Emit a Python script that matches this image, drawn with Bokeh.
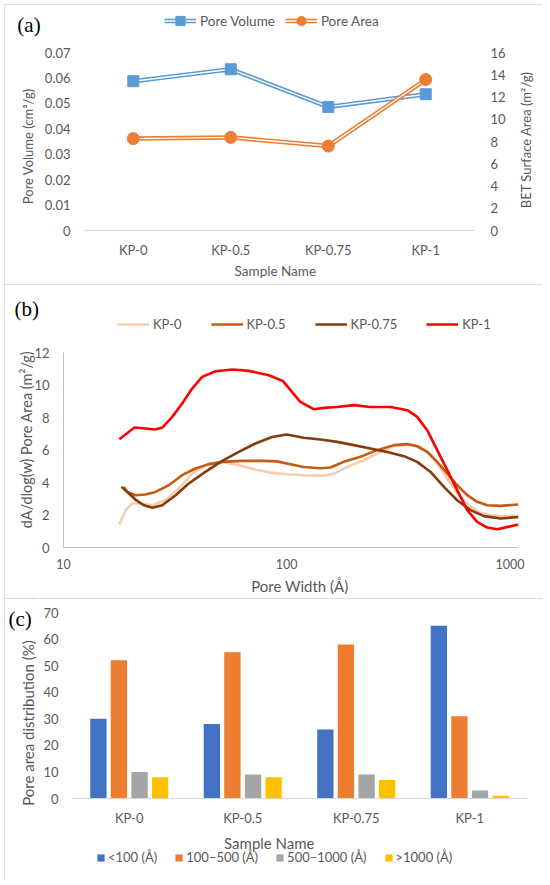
import math
from bokeh.plotting import figure
from bokeh.models import (FactorRange, Range1d, LinearAxis, FixedTicker, Label,
                          Legend, LegendItem, ColumnDataSource)
from bokeh.layouts import column
from bokeh.transform import dodge
from bokeh.embed import file_html
from bokeh.resources import INLINE

FONT = "Lato"
TXT = "#595959"

# ---------------- data ----------------
samples = ["KP-0", "KP-0.5", "KP-0.75", "KP-1"]
pore_volume = [0.0587, 0.0634, 0.0486, 0.0536]
pore_area = [8.26, 8.37, 7.59, 13.57]

vol_ticks = [0, 0.01, 0.02, 0.03, 0.04, 0.05, 0.06, 0.07]
vol_tick_labels = ["0", "0.01", "0.02", "0.03", "0.04", "0.05", "0.06", "0.07"]
area_ticks = [0, 2, 4, 6, 8, 10, 12, 14, 16]

w_kp0 = [17.8, 19.0, 20.3, 22.5, 25.0, 28.6, 32.9, 37.7, 43.2, 51.4, 61, 72.4, 86, 100,
         119, 147, 163, 187, 221, 254, 302, 359, 398, 441, 489, 542, 601, 666, 738, 818,
         907, 1092]
a_kp0 = [1.41, 2.3, 2.71, 2.71, 2.6, 2.91, 3.63, 4.55, 5.06, 5.27, 5.06, 4.8, 4.59, 4.51,
         4.45, 4.41, 4.55, 4.96, 5.37, 5.78, 6.23, 6.36, 6.19, 5.68, 4.86, 3.94, 3.11, 2.5,
         2.13, 1.99, 1.93, 1.95]

w_kp05 = [18.6, 19.3, 21, 23.3, 25.8, 29.6, 34, 39, 44.8, 51.4, 63.2, 77.6, 90, 104, 119,
          142, 157, 180, 214, 254, 302, 347, 384, 426, 472, 524, 580, 644, 713, 791, 907,
          1092]
a_kp05 = [3.73, 3.42, 3.22, 3.26, 3.42, 3.83, 4.45, 4.86, 5.13, 5.27, 5.33, 5.33, 5.3, 5.12,
          4.95, 4.88, 4.92, 5.27, 5.58, 5.99, 6.3, 6.36, 6.23, 5.89, 5.27, 4.55, 3.83, 3.22,
          2.81, 2.6, 2.56, 2.65]

w_kp075 = [18.2, 19.3, 21, 22.9, 25, 27.7, 31.8, 36.4, 43.2, 51.4, 61, 72.4, 86, 100, 119,
           142, 168, 200, 237, 282, 335, 384, 441, 506, 580, 666, 764, 907, 1092]
a_kp075 = [3.73, 3.42, 2.95, 2.6, 2.44, 2.6, 3.22, 3.94, 4.65, 5.33, 5.88, 6.4, 6.8, 6.95,
           6.75, 6.65, 6.5, 6.3, 6.09, 5.88, 5.62, 5.27, 4.65, 3.73, 2.91, 2.3, 1.93, 1.78,
           1.88]

w_kp1 = [17.8, 20.8, 23.3, 25.8, 27.7, 30.7, 34, 37.7, 41.8, 48, 57, 67.6, 83.2, 96, 104,
         115, 132, 147, 168, 200, 237, 292, 347, 384, 426, 472, 524, 580, 644, 713, 791,
         877, 977, 1092]
a_kp1 = [6.66, 7.38, 7.32, 7.26, 7.38, 8.04, 8.86, 9.78, 10.5, 10.85, 10.95, 10.87, 10.6,
         10.25, 9.68, 8.96, 8.51, 8.59, 8.65, 8.76, 8.65, 8.65, 8.45, 8.04, 7.22, 5.99, 4.76,
         3.53, 2.3, 1.58, 1.23, 1.12, 1.27, 1.42]

psd_ticks = [0, 2, 4, 6, 8, 10, 12]
width_ticks = [10, 100, 1000]

lt100 = [30, 28, 26, 65]
b100_500 = [52, 55, 58, 31]
b500_1000 = [10, 9, 9, 3]
gt1000 = [8, 8, 7, 1]
dist_ticks = [0, 10, 20, 30, 40, 50, 60, 70]
bin_labels = ["<100 (Å)", "100–500 (Å)", "500–1000 (Å)", ">1000 (Å)"]

BORDER = {"outline": "1px solid #D9D9D9", "outline-offset": "-1px"}
W = 538
HA, HB, HC = 280, 314, 283


def style_axis(ax, size="13px"):
    ax.major_label_text_font = FONT
    ax.major_label_text_font_size = size
    ax.major_label_text_color = TXT
    ax.major_tick_line_color = None
    ax.minor_tick_line_color = None
    ax.major_tick_out = 0
    ax.major_tick_in = 0
    ax.minor_tick_out = 0
    ax.minor_tick_in = 0


def overlay(h):
    """Transparent full-frame figure laid over a panel; pixel coordinates, y down."""
    o = figure(width=W, height=h, x_range=Range1d(0, W), y_range=Range1d(h, 0),
               output_backend="svg", toolbar_location=None, min_border=0,
               x_axis_location=None, y_axis_location=None, margin=(-h, 0, 0, 0),
               frame_align=False)
    # legend keys are drawn from the series themselves, mapped far outside the frame
    o.extra_y_ranges = {"off": Range1d(-5000, -4000)}
    o.xgrid.visible = False
    o.ygrid.visible = False
    o.outline_line_color = None
    o.background_fill_alpha = 0
    o.border_fill_alpha = 0
    return o


def text(o, x, y, s, size, angle=0.0, font=FONT, color=TXT):
    o.add_layout(Label(x=x, y=y, text=s, angle=angle, text_font=font,
                       text_font_size=size, text_color=color, text_align="center",
                       text_baseline="middle"))


def legend(o, items, loc, **kw):
    base = dict(orientation="horizontal", location=loc, padding=0, margin=0,
                border_line_color=None, background_fill_alpha=0, label_text_font=FONT,
                label_text_color=TXT)
    base.update(kw)
    o.add_layout(Legend(items=items, **base))


# ---------------- panel (a) ----------------
pa = figure(width=W, height=HA, x_range=FactorRange(factors=samples),
            y_range=Range1d(0, 0.07), output_backend="svg", toolbar_location=None,
            min_border_left=80, min_border_right=68, min_border_top=48,
            min_border_bottom=54, styles=BORDER, frame_align=False)
pa.extra_y_ranges = {"area": Range1d(0, 16)}
pa.xgrid.visible = False
pa.ygrid.visible = False
pa.outline_line_color = None

style_axis(pa.yaxis[0])
pa.yaxis[0].ticker = FixedTicker(ticks=vol_ticks)
pa.yaxis[0].major_label_overrides = {t: s for t, s in zip(vol_ticks, vol_tick_labels)}
pa.yaxis[0].axis_line_color = None
pa.yaxis[0].major_label_standoff = 14

style_axis(pa.xaxis[0])
pa.xaxis[0].axis_line_color = "#D9D9D9"
pa.xaxis[0].major_label_standoff = 11

ra = LinearAxis(y_range_name="area", ticker=FixedTicker(ticks=area_ticks))
style_axis(ra)
ra.axis_line_color = None
ra.major_label_standoff = 16
pa.add_layout(ra, "right")

src_a = ColumnDataSource(dict(x=samples, vol=pore_volume, area=pore_area))
BLUE_A = "#5B9BD5"
ORANGE_A = "#ED7D31"
pa.line("x", "vol", source=src_a, line_color=BLUE_A, line_width=4.5)
pa.line("x", "vol", source=src_a, line_color="white", line_width=1.4)
pa.scatter("x", "vol", source=src_a, marker="square", size=11,
           fill_color=BLUE_A, line_color=BLUE_A)
pa.line("x", "area", source=src_a, y_range_name="area", line_color=ORANGE_A,
        line_width=4.5)
pa.line("x", "area", source=src_a, y_range_name="area", line_color="white",
        line_width=1.4)
pa.scatter("x", "area", source=src_a, y_range_name="area", marker="circle", size=12,
           fill_color=ORANGE_A, line_color=ORANGE_A)

oa = overlay(HA)
kw_off = dict(y_range_name="off")
k1 = oa.line(pore_area, pore_area, line_color=BLUE_A, line_width=4.5, **kw_off)
k2 = oa.line(pore_area, pore_area, line_color="white", line_width=1.4, **kw_off)
k3 = oa.scatter(pore_area, pore_area, marker="square", size=11, fill_color=BLUE_A,
                line_color=BLUE_A, **kw_off)
k4 = oa.line(pore_area, pore_area, line_color=ORANGE_A, line_width=4.5, **kw_off)
k5 = oa.line(pore_area, pore_area, line_color="white", line_width=1.4, **kw_off)
k6 = oa.scatter(pore_area, pore_area, marker="circle", size=12, fill_color=ORANGE_A,
                line_color=ORANGE_A, **kw_off)
legend(oa, [LegendItem(label="Pore Volume", renderers=[k1, k2, k3]),
            LegendItem(label="Pore Area", renderers=[k4, k5, k6])],
       (160, HA - 28), spacing=10, glyph_width=32, glyph_height=23, label_standoff=4,
       label_height=20, label_text_font_size="13.5px")
text(oa, 24.5, 20, "(a)", "21px", font="Liberation Serif", color="black")
text(oa, 23.3, 141.8, "Pore Volume (cm³/g)", "13px", angle=math.pi / 2)
text(oa, 521, 135.2, "BET Surface Area (m²/g)", "13px", angle=math.pi / 2)
text(oa, 270.8, 266.7, "Sample Name", "13.5px")

# ---------------- panel (b) ----------------
pb = figure(width=W, height=HB, x_axis_type="log", x_range=Range1d(10, 1092),
            y_range=Range1d(0, 12), output_backend="svg", toolbar_location=None,
            min_border_left=59, min_border_right=24, min_border_top=68,
            min_border_bottom=51, styles=BORDER, frame_align=False)
pb.xgrid.visible = False
pb.ygrid.visible = False
pb.outline_line_color = None

style_axis(pb.xaxis[0], "12.5px")
pb.xaxis[0].ticker = FixedTicker(ticks=width_ticks)
pb.xaxis[0].major_label_overrides = {t: str(t) for t in width_ticks}
pb.xaxis[0].axis_line_color = "#BFBFBF"
pb.xaxis[0].major_label_standoff = 11

style_axis(pb.yaxis[0], "13px")
pb.yaxis[0].ticker = FixedTicker(ticks=psd_ticks)
pb.yaxis[0].axis_line_color = "#BFBFBF"
pb.yaxis[0].major_label_standoff = 14

series_b = [("KP-0", w_kp0, a_kp0, "#F8CBAD"),
            ("KP-0.5", w_kp05, a_kp05, "#C55A11"),
            ("KP-0.75", w_kp075, a_kp075, "#843C0C"),
            ("KP-1", w_kp1, a_kp1, "#FF0000")]
ob = overlay(HB)
items_b = []
for name, ws, vs, col in series_b:
    pb.line(ws, vs, line_color=col, line_width=2.6, line_join="round")
    kr = ob.line(ws, vs, line_color=col, line_width=2.6, **kw_off)
    items_b.append(LegendItem(label=name, renderers=[kr]))
legend(ob, items_b, (113, HB - 50), spacing=29, glyph_width=32, glyph_height=20,
       label_standoff=4, label_height=20, label_text_font_size="13px")
text(ob, 22.2, 24, "(b)", "21px", font="Liberation Serif", color="black")
text(ob, 22.3, 155, "dA/dlog(w) Pore Area (m²/g)", "14.5px", angle=math.pi / 2)
text(ob, 295.3, 301.7, "Pore Width (Å)", "15px")

# ---------------- panel (c) ----------------
pc = figure(width=W, height=HC, x_range=FactorRange(factors=samples),
            y_range=Range1d(0, 70), output_backend="svg", toolbar_location=None,
            min_border_left=68, min_border_right=16, min_border_top=14,
            min_border_bottom=83, styles=BORDER, frame_align=False)
pc.xgrid.visible = False
pc.ygrid.visible = False
pc.outline_line_color = None

style_axis(pc.xaxis[0])
pc.xaxis[0].axis_line_color = "#D9D9D9"
pc.xaxis[0].major_label_standoff = 11
style_axis(pc.yaxis[0])
pc.yaxis[0].ticker = FixedTicker(ticks=dist_ticks)
pc.yaxis[0].axis_line_color = None
pc.yaxis[0].major_label_standoff = 14

src_c = ColumnDataSource(dict(x=samples, b1=lt100, b2=b100_500, b3=b500_1000, b4=gt1000))
bar_cols = ["#4472C4", "#ED7D31", "#A5A5A5", "#FFC000"]
offsets = [-0.272, -0.091, 0.091, 0.272]
series_c = [lt100, b100_500, b500_1000, gt1000]
oc = overlay(HC)
items_c = []
for key, off, col, lab, vals in zip(["b1", "b2", "b3", "b4"], offsets, bar_cols,
                                    bin_labels, series_c):
    pc.vbar(x=dodge("x", off, range=pc.x_range), top=key, width=0.144, source=src_c,
            fill_color=col, line_color=None)
    kr = oc.vbar(x=vals, top=vals, width=1, fill_color=col, line_color=None, **kw_off)
    items_c.append(LegendItem(label=lab, renderers=[kr]))
legend(oc, items_c, (92, HC - 267), spacing=17, glyph_width=9, glyph_height=9,
       label_standoff=3, label_height=9, label_text_font_size="13px")
text(oc, 15.6, 20.3, "(c)", "21px", font="Liberation Serif", color="black")
text(oc, 23.3, 124.5, "Pore area distribution (%)", "15px", angle=math.pi / 2)
text(oc, 264.8, 244, "Sample Name", "15px")

layout = column(pa, oa, pb, ob, pc, oc, spacing=0, margin=(4, 0, 0, 4))
open("out.html", "w").write(file_html(layout, INLINE))
